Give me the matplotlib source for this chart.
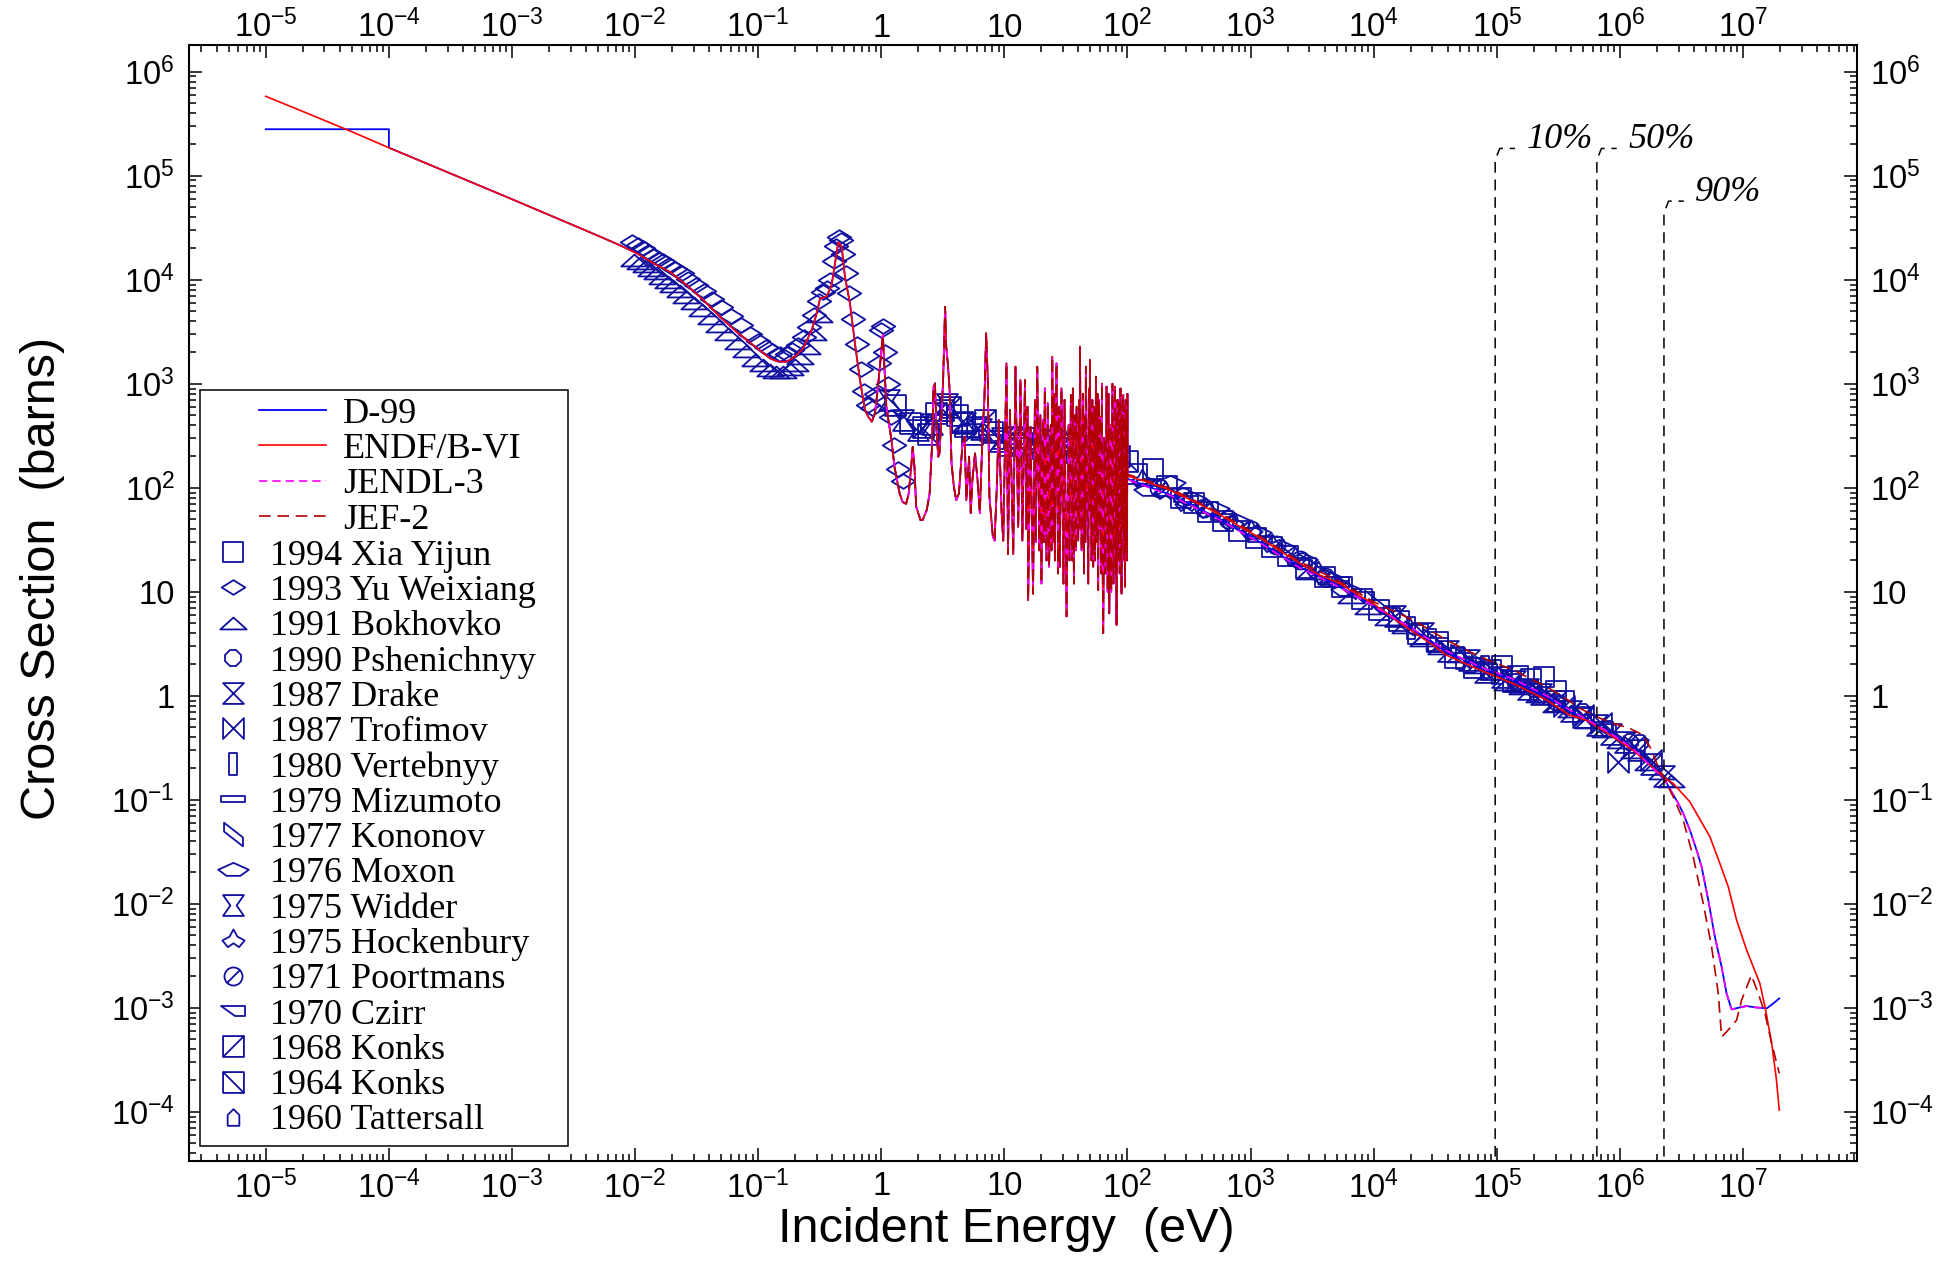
import numpy as np
import matplotlib
matplotlib.use("Agg")
import matplotlib.pyplot as plt
from matplotlib import font_manager
from matplotlib.path import Path
from matplotlib.patches import Rectangle
from matplotlib.ticker import LogLocator, FixedLocator, FuncFormatter, NullFormatter

# ---------------- evaluated curves (E in eV, sigma in barns) ----------------
# 1/v region
E_1v = [1e-5, 2e-5, 5e-5, 1e-4, 2e-4, 5e-4, 1e-3, 2e-3, 5e-3]
sig_1v = [5.8e5, 4.15e5, 2.65e5, 1.86e5, 1.32e5, 8.4e4, 5.95e4, 4.2e4, 2.65e4]
E_1v_d99 = [1e-5, 1e-4, 1e-4, 2e-4, 5e-4, 1e-3, 2e-3, 5e-3]
sig_1v_d99 = [2.8e5, 2.8e5, 1.86e5, 1.32e5, 8.4e4, 5.95e4, 4.2e4, 2.65e4]

# thermal region with the 0.32 / 0.46 eV resonances
E_th = [7.5e-3, 0.0103, 0.0141, 0.0192, 0.0262, 0.0358, 0.049, 0.0668, 0.0912,
        0.125, 0.146, 0.170, 0.199, 0.232, 0.272, 0.299, 0.318, 0.36, 0.395,
        0.421, 0.448, 0.477, 0.507, 0.557, 0.611, 0.671, 0.737, 0.784]
sig_th = [2.15e4, 1.8e4, 1.44e4, 1.19e4, 8.9e3, 6.4e3, 4.4e3, 3.16e3, 2.35e3,
          1.75e3, 1.63e3, 1.63e3, 1.82e3, 2.19e3, 3.28e3, 4.75e3, 6.6e3, 6.9e3, 8.9e3,
          1.44e4, 2.3e4, 2.07e4, 1.07e4, 5.9e3, 2.44e3, 1.09e3, 559, 482]

# resolved resonance region, 0.8 - 10 eV
E_res_lo = [0.836, 0.889, 0.946, 1.03, 1.10, 1.21, 1.28, 1.41, 1.49, 1.59, 1.67, 1.75,
            1.80, 1.86, 1.92, 2.08, 2.17, 2.34, 2.47, 2.58, 2.66, 2.73, 2.81, 2.90, 2.97,
            3.05, 3.18, 3.30, 3.37, 3.49, 3.59, 3.72, 3.89, 4.06, 4.27, 4.55, 4.76, 4.91,
            5.17, 5.33, 5.50, 5.78, 6.05, 6.32, 6.66, 6.88, 7.11, 7.33, 7.56, 8.06, 8.33,
            8.70, 9.0, 9.5, 9.79]
sig_res_lo = [431, 519, 1009, 2940, 601, 288, 159, 88, 73, 70, 88, 159,
              248, 159, 66, 49, 49, 61, 88, 248, 935, 1009, 359, 199, 214,
              386, 1086, 5500, 2270, 1456, 871, 172, 102, 76, 88, 248, 310, 76,
              199, 57, 119, 214, 119, 57, 359, 697, 3054, 1086, 82, 34, 31,
              110, 448, 57, 31]
# resolved resonance region, 10 - 100 eV
E_res_hi = [10.4, 10.7, 11.1, 11.8, 12.3, 12.95, 13.5, 14.0, 14.7, 15.1, 15.4, 15.6,
            16.3, 17.1, 17.7, 18.0, 18.5, 19.2, 19.6, 20.0, 20.6, 20.9, 21.3, 22.0,
            22.5, 23.1, 23.8, 24.1, 24.5, 25.1, 25.4, 25.7, 26.5, 27.3, 27.7, 28.2,
            29.1, 30.2, 30.8, 32.0, 33.2, 33.8, 34.7, 35.6, 36.0, 36.7, 37.6, 38.0,
            38.6, 39.8, 40.5, 40.8, 41.1, 42.4, 43.5, 44.3, 45.0, 45.4, 45.9, 48.0,
            48.8, 49.2, 49.5, 51.0, 51.8, 52.7, 53.8, 54.6, 55.4, 56.5, 57.2, 57.8,
            58.8, 59.3, 59.7, 61.0, 62.0, 62.8, 63.5, 65.0, 66.0, 67.6, 69.0, 70.0,
            71.1, 72.5, 73.8, 75.5, 77.0, 79.0, 80.2, 80.9, 81.5, 83.0, 84.0, 85.1,
            86.5, 87.7, 88.7, 89.5, 90.8, 91.6, 92.3, 93.8, 94.6, 95.3, 96.8, 97.6,
            98.3, 99.2, 99.8, 100.0]
sig_res_hi = [1570, 23, 559, 23, 1459, 42, 1086, 31, 1086, 40, 600, 8.3,
              386, 9.6, 700, 30, 1459, 25, 500, 12, 450, 30, 903, 20,
              650, 17.4, 400, 25, 1820, 30, 800, 20, 1570, 15, 600, 17.4,
              903, 12, 700, 5.8, 400, 20, 780, 20, 900, 12, 500, 25,
              601, 31, 700, 40, 2270, 25, 800, 15, 500, 30, 1459, 12,
              900, 60, 1690, 20, 700, 17.4, 600, 20, 1170, 30, 800, 10.4,
              700, 40, 482, 15, 1000, 20, 4.0, 300, 15, 937, 10, 800,
              6.2, 400, 10, 1000, 12, 937, 15, 500, 4.8, 700, 20, 697,
              15, 900, 30, 9.6, 500, 40, 780, 20, 600, 11.2, 700, 30,
              559, 20, 800, 130]

# smooth region, ENDF/B-VI
E_hi_endf = [100, 150, 221, 300, 400, 564, 800, 1190, 1700, 2512, 3500, 5310, 7500,
             9900, 1.5e4, 2.09e4, 3.0e4, 3.9e4, 5.5e4, 7.3e4, 1.0e5, 1.36e5, 1.9e5,
             2.54e5, 3.2e5, 3.9e5, 5.36e5, 7e5, 8.8e5, 1.28e6, 1.8e6, 2.25e6, 2.71e6,
             3.7e6, 5.39e6, 6.49e6, 7.59e6, 8.87e6, 1.07e7, 1.37e7, 1.51e7, 1.71e7,
             1.87e7, 1.97e7]
sig_hi_endf = [130, 112, 95, 80, 68, 55, 43, 33, 25, 18.8, 14.8, 12, 9.3,
               7.7, 5.4, 4.12, 3.1, 2.46, 2.05, 1.77, 1.52, 1.31, 1.08,
               0.91, 0.76, 0.652, 0.583, 0.48, 0.404, 0.30, 0.21, 0.166, 0.1436,
               0.0957, 0.044, 0.0244, 0.0146, 0.00697, 0.00359, 0.00172, 0.00102, 4.55e-4,
               2.02e-4, 1.04e-4]

# smooth region, JEF-2
E_hi_jef = [100, 221, 564, 1190, 2512, 5310, 1.0e4, 2.09e4, 3.9e4, 7.3e4, 1.36e5,
            2.54e5, 3.46e5, 4.73e5, 6.46e5, 8.83e5, 1.2e6, 1.55e6, 1.81e6, 1.99e6,
            2.25e6, 2.71e6, 3.27e6, 3.94e6, 4.75e6, 5.56e6, 6.3e6, 6.7e6, 7.36e6,
            8.87e6, 9.75e6, 1.17e7, 1.33e7, 1.51e7, 1.71e7, 1.97e7]
sig_hi_jef = [135, 99, 57, 34, 19.5, 12.5, 8.0, 5.35, 3.43, 2.37, 1.77,
              1.22, 0.98, 0.757, 0.628, 0.543, 0.486, 0.419, 0.30, 0.224,
              0.166, 0.107, 0.0638, 0.0283, 0.0101, 0.00386, 0.00137, 5.26e-4, 5.88e-4,
              7.6e-4, 1.19e-3, 2.06e-3, 1.37e-3, 8.8e-4, 4.55e-4, 2.34e-4]

# smooth region, JENDL-3
E_hi_jendl = [100, 221, 564, 1190, 2512, 5310, 9900, 2.09e4, 3.9e4, 7.3e4, 1.36e5,
              2.54e5, 4e5, 6e5, 8.8e5, 1.28e6, 2.32e6, 2.63e6, 2.98e6, 3.27e6, 3.7e6,
              4.2e6, 4.61e6, 5.22e6, 5.91e6, 6.7e6, 7.36e6, 8.08e6, 9.44e6, 1.07e7,
              1.25e7, 1.56e7]
sig_hi_jendl = [120, 85, 49, 29.5, 17, 11, 7.3, 4.4, 2.7, 1.9, 1.45,
                1.0, 0.72, 0.55, 0.42, 0.31, 0.155, 0.119, 0.0923, 0.074, 0.0512,
                0.0328, 0.0227, 0.0109, 0.00482, 0.00248, 0.00137, 9.65e-4, 1.0e-3, 1.04e-3,
                1.01e-3, 9.87e-4]

# smooth region, D-99
E_hi_d99 = [100, 221, 564, 1190, 2512, 5310, 9900, 2.09e4, 3.9e4, 7.3e4, 1.36e5,
            2.54e5, 4e5, 6e5, 8.8e5, 1.28e6, 2.32e6, 2.63e6, 2.98e6, 3.27e6, 3.7e6,
            4.2e6, 4.61e6, 5.22e6, 5.91e6, 6.7e6, 7.36e6, 8.08e6, 9.44e6, 1.07e7,
            1.25e7, 1.56e7, 1.76e7, 1.97e7]
sig_hi_d99 = [122, 86, 50, 30, 17.3, 11.2, 7.4, 4.35, 2.65, 1.88, 1.42,
              0.98, 0.71, 0.55, 0.42, 0.31, 0.155, 0.119, 0.0923, 0.074, 0.0512,
              0.0328, 0.0227, 0.0109, 0.00482, 0.00248, 0.00137, 9.65e-4, 1.01e-3, 1.04e-3,
              1.01e-3, 9.87e-4, 1.1e-3, 1.23e-3]

# ---------------- experimental data ----------------
E_xia = [120, 160, 210, 270, 350, 450, 600, 800, 1100, 1500, 2000, 2800, 4000, 5500,
         8000, 1.1e4, 1.6e4, 2.3e4, 3.3e4, 4.6e4, 6.5e4, 9e4, 1.1e5, 1.5e5, 1.9e5,
         2.4e5, 3.0e5, 3.5e5]
sig_xia = [135, 150, 105, 80, 72, 58, 48, 38, 33, 27, 22, 17, 14, 11,
           8.6, 6.7, 5.2, 3.9, 3.3, 2.3, 1.85, 1.75, 1.95, 1.55, 1.45,
           1.5, 1.1, 0.9]
E_yu = [0.0095, 0.0105, 0.0115, 0.0127, 0.014, 0.0155, 0.017, 0.019, 0.021, 0.024,
        0.027, 0.031, 0.036, 0.042, 0.05, 0.06, 0.072, 0.086, 0.1, 0.115, 0.13, 0.15,
        0.17, 0.19, 0.21, 0.235, 0.26, 0.285, 0.31, 0.335, 0.36, 0.385, 0.41, 0.43,
        0.45, 0.47, 0.49, 0.52, 0.55, 0.59, 0.63, 0.68, 0.73, 0.78, 0.84, 0.9, 0.96,
        1.0, 1.04, 1.08, 1.13, 1.2, 1.28, 1.38, 1.5]
sig_yu = [2.3e4, 2.15e4, 2.0e4, 1.85e4, 1.7e4, 1.6e4, 1.5e4, 1.4e4, 1.28e4, 1.15e4,
          1.02e4, 9.0e3, 7.8e3, 6.6e3, 5.5e3, 4.5e3, 3.7e3, 3.0e3, 2.6e3, 2.25e3, 2.05e3, 1.95e3,
          1.95e3, 2.1e3, 2.35e3, 2.8e3, 3.5e3, 4.6e3, 6.3e3, 7.6e3, 8.3e3, 1.0e4, 1.5e4, 2.1e4,
          2.6e4, 2.4e4, 1.75e4, 1.15e4, 7.5e3, 4.2e3, 2.4e3, 1.4e3, 850, 620, 580, 800, 1.6e3,
          3.3e3, 3.6e3, 2.0e3, 1.0e3, 480, 260, 150, 115]
E_bokh = [0.0098, 0.011, 0.0122, 0.0135, 0.015, 0.0166, 0.0185, 0.0205, 0.023, 0.026,
          0.03, 0.035, 0.041, 0.048, 0.057, 0.068, 0.08, 0.095, 0.11, 0.125, 0.14, 0.16,
          0.18, 0.2, 0.22, 0.25, 0.28, 0.31,
          3000, 4500, 6500, 9000, 1.3e4, 1.8e4, 2.5e4, 3.5e4, 5e4, 7e4, 9e4, 1.2e5,
          1.6e5, 2.2e5, 3e5, 4e5, 5.5e5, 7.5e5, 1.0e6, 1.3e6, 1.7e6, 2.2e6, 2.6e6]
sig_bokh = [1.55e4, 1.45e4, 1.35e4, 1.25e4, 1.15e4, 1.05e4, 9.6e3, 8.7e3, 7.8e3, 6.9e3,
            6.0e3, 5.1e3, 4.3e3, 3.6e3, 3.0e3, 2.45e3, 2.05e3, 1.7e3, 1.5e3, 1.35e3, 1.3e3, 1.3e3,
            1.4e3, 1.5e3, 1.75e3, 2.2e3, 3.0e3, 4.5e3,
            15, 13.5, 9.0, 7.0, 5.5, 4.6, 3.4, 2.9, 2.4, 1.9, 1.65, 1.3,
            1.2, 1.0, 0.8, 0.72, 0.56, 0.46, 0.36, 0.29, 0.22, 0.18, 0.15]
E_pshe = [2e5, 3e5, 5e5, 8e5, 1.2e6, 1.47e6]
sig_pshe = [1.15, 0.88, 0.7, 0.48, 0.36, 0.35]
E_drake = [1.5e4, 2.5e4, 4e4, 6e4, 8e4, 1.1e5, 1.4e5, 1.8e5, 2.3e5, 3e5, 4e5, 5e5,
           6.5e5, 8.5e5, 1.1e6, 1.4e6, 1.8e6, 2.3e6]
sig_drake = [5.8, 4.0, 2.7, 2.2, 1.7, 1.5, 1.4, 1.15, 1.05, 0.9, 0.72, 0.62,
             0.52, 0.43, 0.36, 0.3, 0.22, 0.17]
E_trof = [3.5e5, 5e5, 7e5, 9.7e5, 1.3e6, 1.8e6]
sig_trof = [0.8, 0.66, 0.55, 0.23, 0.33, 0.24]
E_vert = [2e4, 3e4, 5e4, 8e4, 1.2e5, 2e5]
sig_vert = [4.5, 3.4, 2.3, 1.9, 1.4, 1.1]
E_mizu = [3, 5, 8, 13, 20, 32, 50, 80, 150, 300, 600, 1200, 2500, 5000]
sig_mizu = [470, 330, 300, 280, 250, 240, 250, 230, 112, 78, 52, 32, 19, 12]
E_kono = [2000, 3500, 6000, 1e4, 1.7e4, 3e4, 5e4, 8e4, 1.3e5, 2e5, 3e5]
sig_kono = [22, 16, 11, 8, 5.6, 3.4, 2.4, 1.85, 1.4, 1.1, 0.85]
E_moxon = [150, 220, 330, 500, 750, 1100, 1700, 2600, 4000, 6000]
sig_moxon = [95, 110, 78, 62, 48, 37, 27, 20, 14, 10.5]
E_widder = [1.15, 1.5, 2.0, 2.6, 3.4, 4.8, 6.5, 9.5, 14, 19, 26, 36, 48]
sig_widder = [700, 450, 360, 410, 640, 420, 370, 300, 270, 250, 280, 220, 230]
E_hock = [130, 200, 300, 450, 700, 1000, 1500, 2300, 3500]
sig_hock = [120, 92, 70, 60, 46, 38, 28, 21, 15.5]
E_poort = [180, 280, 420, 650, 1000, 1600, 2500, 4000]
sig_poort = [100, 82, 64, 50, 39, 28, 20, 14]
E_czirr = [5e3, 8e3, 1.3e4, 2e4, 3.2e4, 5e4, 8e4, 1.2e5, 1.8e5, 2.8e5, 4.5e5, 7e5]
sig_czirr = [12.5, 9, 6.2, 4.3, 3.2, 2.3, 1.8, 1.45, 1.2, 0.9, 0.68, 0.5]
E_konks68 = [2.2, 2.8, 3.6, 4.5, 5.5, 7, 9, 12, 16, 21, 28, 37, 50, 65, 85]
sig_konks68 = [380, 520, 600, 430, 330, 450, 280, 310, 260, 290, 240, 270, 220, 240, 200]
E_konks64 = [1.3, 1.7, 2.4, 3.2, 4.1, 6, 8, 11, 15, 20, 27, 35, 45, 60, 80, 100]
sig_konks64 = [620, 420, 330, 560, 500, 380, 340, 260, 300, 240, 260, 230, 250, 210, 220, 180]
E_tatt = [3e4, 6e4, 1e5, 1.5e5, 2.2e5, 3.2e5]
sig_tatt = [3.2, 2.0, 1.6, 1.3, 1.05, 0.85]

exp_labels = ["1994 Xia Yijun", "1993 Yu Weixiang", "1991 Bokhovko", "1990 Pshenichnyy",
              "1987 Drake", "1987 Trofimov", "1980 Vertebnyy", "1979 Mizumoto",
              "1977 Kononov", "1976 Moxon", "1975 Widder", "1975 Hockenbury",
              "1971 Poortmans", "1970 Czirr", "1968 Konks", "1964 Konks", "1960 Tattersall"]
exp_data = [(E_xia, sig_xia), (E_yu, sig_yu), (E_bokh, sig_bokh), (E_pshe, sig_pshe),
            (E_drake, sig_drake), (E_trof, sig_trof), (E_vert, sig_vert), (E_mizu, sig_mizu),
            (E_kono, sig_kono), (E_moxon, sig_moxon), (E_widder, sig_widder), (E_hock, sig_hock),
            (E_poort, sig_poort), (E_czirr, sig_czirr), (E_konks68, sig_konks68),
            (E_konks64, sig_konks64), (E_tatt, sig_tatt)]

# energies below which 10%, 50%, 90% of the spectrum lies
pct_labels = ["10%", "50%", "90%"]
pct_E = [9.7e4, 6.5e5, 2.28e6]
pct_top = [1.42e5, 1.42e5, 4.37e4]
pct_text_y = [1.83e5, 1.83e5, 5.7e4]

# decade ticks
x_ticks = [10.0 ** k for k in range(-5, 8)]
y_ticks = [10.0 ** k for k in range(-4, 7)]

# ---------------- fonts ----------------
names = {f.name for f in font_manager.fontManager.ttflist}
SANS = "Liberation Sans Narrow" if "Liberation Sans Narrow" in names else "Liberation Sans"
SERIF = "Liberation Serif"
plt.rcParams["font.family"] = SANS
plt.rcParams["mathtext.fontset"] = "custom"
plt.rcParams["mathtext.rm"] = SANS
plt.rcParams["mathtext.it"] = SANS + ":italic"
plt.rcParams["mathtext.bf"] = SANS + ":bold"
plt.rcParams["axes.unicode_minus"] = False


# ---------------- marker shapes ----------------
def closed(pts):
    v = np.array(list(pts) + [pts[0]], float)
    codes = [Path.MOVETO] + [Path.LINETO] * (len(pts) - 1) + [Path.CLOSEPOLY]
    return Path(v, codes)


sq = [(-1, -1), (1, -1), (1, 1), (-1, 1)]
markers = [
    (closed(sq), 15),
    (closed([(-1, 0), (0, 0.62), (1, 0), (0, -0.62)]), 17),
    (closed([(-1, -0.45), (0, 0.45), (1, -0.45)]), 19),
    ("8", 13),
    (closed([(-1, 1), (1, 1), (-1, -1), (1, -1)]), 15),
    (closed([(-1, 1), (1, -1), (1, 1), (-1, -1)]), 15),
    (closed([(-0.35, -1), (0.35, -1), (0.35, 1), (-0.35, 1)]), 16),
    (closed([(-1, -0.28), (1, -0.28), (1, 0.28), (-1, 0.28)]), 17),
    (closed([(-0.8, 1), (-0.8, 0.25), (0.8, -1), (0.8, -0.25)]), 17),
    (closed([(-1, 0.05), (0, 0.5), (1, 0.05), (0.45, -0.35), (-0.45, -0.35)]), 22),
    (closed([(-1, 1), (1, 1), (0.3, 0), (1, -1), (-1, -1), (-0.3, 0)]), 15),
    (closed([(0, 1), (0.35, 0.35), (1, 0), (0.5, -0.6), (0, -0.25), (-0.5, -0.6),
             (-1, 0), (-0.35, 0.35)]), 16),
    (Path.make_compound_path(Path.unit_circle(), Path([(-0.7, -0.7), (0.7, 0.7)])), 13),
    (closed([(-1, 0.4), (1, 0.4), (1, -0.4), (0.2, -0.4)]), 17),
    (Path.make_compound_path(closed(sq), Path([(-1, -1), (1, 1)])), 15),
    (Path.make_compound_path(closed(sq), Path([(-1, 1), (1, -1)])), 15),
    (closed([(-0.7, -1), (0.7, -1), (0.7, 0.3), (0, 1), (-0.7, 0.3)]), 12),
]
MCOL = "#1010a0"

# ---------------- figure ----------------
fig = plt.figure(figsize=(19.39, 12.61), dpi=100)
AX_L, AX_R, AX_T, AX_B = 188.7, 1856.5, 45.0, 1161.0
ax = fig.add_axes([AX_L / 1939, 1 - AX_B / 1261, (AX_R - AX_L) / 1939, (AX_B - AX_T) / 1261])


def ax_frac(xp, yp):
    return ((xp - AX_L) / (AX_R - AX_L), (AX_B - yp) / (AX_B - AX_T))


exp_handles = []
for lab, (E, s), (mk, ms) in zip(exp_labels, exp_data, markers):
    h, = ax.plot(E, s, ls="none", marker=mk, ms=ms, mfc="none", mec=MCOL, mew=1.3,
                 label=lab, zorder=2)
    exp_handles.append(h)

h_d99, = ax.plot(np.concatenate([E_1v_d99, E_th, E_res_lo, E_res_hi, E_hi_d99]),
                 np.concatenate([sig_1v_d99, sig_th, sig_res_lo, sig_res_hi, sig_hi_d99]),
                 color="#0000ff", lw=1.3, zorder=3, label="D-99")
h_endf, = ax.plot(np.concatenate([E_1v, E_th, E_res_lo, E_res_hi, E_hi_endf]),
                  np.concatenate([sig_1v, sig_th, sig_res_lo, sig_res_hi, sig_hi_endf]),
                  color="#ff0000", lw=1.2, zorder=4, label="ENDF/B-VI")
h_jendl, = ax.plot(np.concatenate([E_res_lo, E_res_hi, E_hi_jendl]),
                   np.concatenate([sig_res_lo, sig_res_hi, sig_hi_jendl]),
                   color="#ff00ff", lw=1.2, ls=(0, (5, 3)), zorder=5, label="JENDL-3")
h_jef, = ax.plot(np.concatenate([E_res_lo, E_res_hi, E_hi_jef]),
                 np.concatenate([sig_res_lo, sig_res_hi, sig_hi_jef]),
                 color="#b00000", lw=1.2, ls=(0, (7, 4)), zorder=6, label="JEF-2")

# percentage markers
for lab, e, top_y, ty in zip(pct_labels, pct_E, pct_top, pct_text_y):
    ax.plot([e, e, e * 1.09, e * 1.45], [1e-6, top_y, ty, ty], color="black",
            lw=1.1, ls=(0, (7, 4.5)), zorder=7)
    ax.text(e * 1.8, ty, lab, family=SERIF, style="italic", fontsize=26,
            ha="left", va="baseline", zorder=7)

ax.set_xscale("log")
ax.set_yscale("log")
ax.set_xlim(10 ** -5.626, 10 ** 7.922)
ax.set_ylim(10 ** -4.473, 10 ** 6.257)


def fmt(v, pos):
    e = int(round(np.log10(v)))
    if e == 0:
        return "1"
    if e == 1:
        return "10"
    return r"$\mathregular{10^{%d}}$" % e


def style_axis(axis, ticks):
    axis.set_major_locator(FixedLocator(ticks))
    axis.set_minor_locator(LogLocator(base=10, subs=np.arange(2, 10), numticks=400))
    axis.set_major_formatter(FuncFormatter(fmt))
    axis.set_minor_formatter(NullFormatter())


style_axis(ax.xaxis, x_ticks)
style_axis(ax.yaxis, y_ticks)
ax.tick_params(which="both", direction="in", top=True, right=True, labeltop=False,
               labelright=True, width=1.1, labelsize=23.5)
ax.tick_params(which="major", length=9.5)
ax.tick_params(which="minor", length=5)
ax.tick_params(axis="x", which="major", pad=7)
ax.tick_params(axis="y", which="major", pad=10)
for sp in ax.spines.values():
    sp.set_linewidth(1.5)

# top tick labels sit a bit closer to the frame
top = ax.secondary_xaxis("top")
style_axis(top.xaxis, x_ticks)
top.tick_params(which="both", length=0, pad=0.8, labelsize=23.5)
for sp in top.spines.values():
    sp.set_visible(False)

ax.set_xlabel("Incident Energy  (eV)", fontsize=35)
ax.set_ylabel("Cross Section  (barns)", fontsize=35)
ax.xaxis.set_label_coords(0.49, -0.041)
ax.yaxis.set_label_coords(-0.074, 0.522)

# legend: frame + two stacked legends
fx0, fy0 = ax_frac(200, 1146)
fx1, fy1 = ax_frac(568, 390)
ax.add_patch(Rectangle((fx0, fy0), fx1 - fx0, fy1 - fy0, transform=ax.transAxes,
                       facecolor="white", edgecolor="black", lw=1.1, zorder=8))
prop = {"family": SERIF, "size": 26}
leg1 = ax.legend(handles=[h_d99, h_endf, h_jendl, h_jef],
                 loc="upper left", bbox_to_anchor=ax_frac(259, 397.5),
                 bbox_transform=ax.transAxes, frameon=False, borderpad=0,
                 borderaxespad=0, handlelength=1.86, handletextpad=0.47,
                 labelspacing=0.055, prop=prop)
leg1.set_zorder(9)
ax.add_artist(leg1)
leg2 = ax.legend(handles=exp_handles, loc="upper left",
                 bbox_to_anchor=ax_frac(217, 397.5 + 4 * 35.5),
                 bbox_transform=ax.transAxes, frameon=False, borderpad=0,
                 borderaxespad=0, handlelength=0.9, handletextpad=0.565,
                 labelspacing=0.055, numpoints=1, prop=prop)
leg2.set_zorder(9)

fig.savefig("out.png", dpi=100)
